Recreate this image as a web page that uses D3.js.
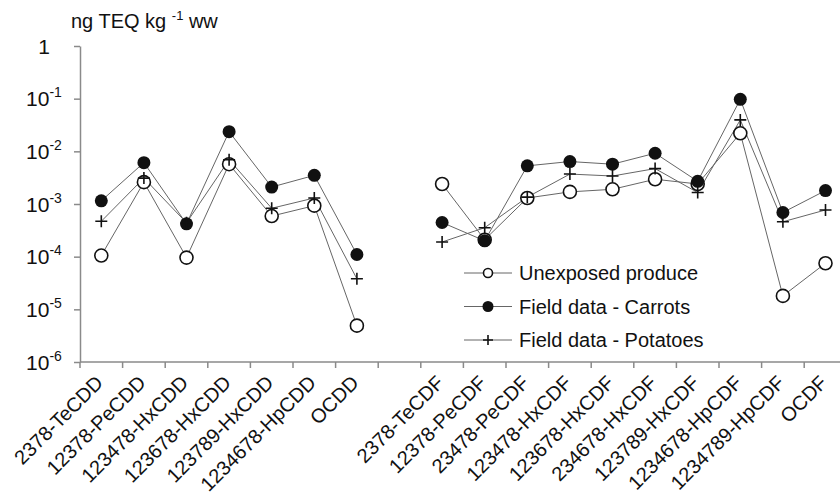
<!DOCTYPE html>
<html>
<head>
<meta charset="utf-8">
<script src="https://cdn.jsdelivr.net/npm/d3@7"></script>
<style>
  body { margin: 0; background: #fff; }
  svg { display: block; font-family: "Liberation Sans", Arial, sans-serif; }
</style>
</head>
<body>
<svg id="chart" width="840" height="497"></svg>
<script>
// categories (empty string = gap between dioxins and furans)
var categories = ["2378-TeCDD", "12378-PeCDD", "123478-HxCDD", "123678-HxCDD", "123789-HxCDD",
    "1234678-HpCDD", "OCDD", "",
    "2378-TeCDF", "12378-PeCDF", "23478-PeCDF", "123478-HxCDF", "123678-HxCDF", "234678-HxCDF",
    "123789-HxCDF", "1234678-HpCDF", "1234789-HpCDF", "OCDF"];

var unexposed = [1.05e-4, 2.6e-3, 9.6e-5, 5.7e-3, 5.9e-4, 9.3e-4, 4.9e-6, null,
    2.4e-3, 2.1e-4, 1.3e-3, 1.7e-3, 1.9e-3, 2.95e-3, 2.4e-3, 2.2e-2, 1.8e-5, 7.5e-5];
var carrots = [1.15e-3, 6.1e-3, 4.2e-4, 2.36e-2, 2.1e-3, 3.5e-3, 1.1e-4, null,
    4.45e-4, 2.0e-4, 5.3e-3, 6.4e-3, 5.7e-3, 9.2e-3, 2.7e-3, 9.7e-2, 6.9e-4, 1.8e-3];
var potatoes = [4.7e-4, 3.1e-3, 4.4e-4, 6.9e-3, 8.3e-4, 1.3e-3, 3.8e-5, null,
    1.9e-4, 3.55e-4, 1.35e-3, 3.7e-3, 3.4e-3, 4.7e-3, 1.65e-3, 3.95e-2, 4.6e-4, 7.7e-4];

var yTicks = [1, 1e-1, 1e-2, 1e-3, 1e-4, 1e-5, 1e-6];
var seriesNames = ["Unexposed produce", "Field data - Carrots", "Field data - Potatoes"];

var svg = d3.select("#chart");
var plotLeft = 80, plotTop = 46, plotBottom = 362, slot = 42.6;

var x = d3.scaleBand()
    .domain(d3.range(categories.length))
    .range([plotLeft, plotLeft + slot * categories.length]);

var y = d3.scaleLog()
    .domain([1e-6, 1])
    .range([plotBottom, plotTop]);

var axisColor = "#8a8a8a", lineColor = "#666";

// y axis
var yAxis = svg.append("g")
    .attr("transform", "translate(" + plotLeft + ",0)")
    .call(d3.axisLeft(y).tickValues(yTicks).tickSize(6).tickSizeOuter(0).tickFormat(""));
yAxis.select(".domain").attr("stroke", axisColor).attr("stroke-width", 1.5);
yAxis.selectAll(".tick line").attr("stroke", axisColor).attr("stroke-width", 1.5);

// y tick labels with superscript exponents
yTicks.forEach(function (v) {
    var e = Math.round(Math.log10(v));
    var t = svg.append("text")
        .attr("x", 44)
        .attr("y", y(v) + 7.5)
        .attr("text-anchor", "middle")
        .attr("font-size", 21)
        .attr("fill", "#111");
    if (e === 0) {
        t.text("1");
    } else {
        t.append("tspan").text("10");
        t.append("tspan").attr("dy", -9).attr("font-size", 14).text(e);
    }
});

// x axis
svg.append("line")
    .attr("x1", plotLeft).attr("x2", x.range()[1])
    .attr("y1", plotBottom).attr("y2", plotBottom)
    .attr("stroke", axisColor).attr("stroke-width", 1.5);

svg.selectAll(".xtick")
    .data(d3.range(categories.length + 1))
    .enter().append("line")
    .attr("class", "xtick")
    .attr("x1", function (i) { return plotLeft + i * x.step(); })
    .attr("x2", function (i) { return plotLeft + i * x.step(); })
    .attr("y1", plotBottom).attr("y2", plotBottom + 6)
    .attr("stroke", axisColor).attr("stroke-width", 1.5);

svg.selectAll(".xlabel")
    .data(categories)
    .enter().append("text")
    .attr("class", "xlabel")
    .attr("text-anchor", "end")
    .attr("font-size", 20)
    .attr("fill", "#111")
    .attr("transform", function (d, i) {
        var cx = x(i) + x.bandwidth() / 2 + 3;
        return "translate(" + cx + "," + (plotBottom + 22) + ") rotate(-45)";
    })
    .text(function (d) { return d; });

// title
var title = svg.append("text")
    .attr("x", 71).attr("y", 28)
    .attr("font-size", 20)
    .attr("fill", "#111");
title.append("tspan").text("ng TEQ kg ");
title.append("tspan").attr("dy", -8).attr("font-size", 13).text("-1");
title.append("tspan").attr("dy", 8).text(" ww");

// series
var line = d3.line()
    .defined(function (d) { return d != null; })
    .x(function (d, i) { return x(i) + x.bandwidth() / 2; })
    .y(function (d) { return y(d); });

function drawMarker(g, kind, r) {
    if (kind === 0) {
        g.append("circle").attr("r", r).attr("fill", "#fff").attr("stroke", "#111").attr("stroke-width", 1.6);
    } else if (kind === 1) {
        g.append("circle").attr("r", r).attr("fill", "#111");
    } else {
        g.append("path").attr("d", "M" + (-r) + ",0H" + r + "M0," + (-r) + "V" + r)
            .attr("stroke", "#111").attr("stroke-width", 1.6).attr("fill", "none");
    }
}

[unexposed, carrots, potatoes].forEach(function (vals, k) {
    svg.append("path")
        .datum(vals)
        .attr("d", line)
        .attr("fill", "none")
        .attr("stroke", lineColor)
        .attr("stroke-width", 1);
});

[unexposed, carrots, potatoes].forEach(function (vals, k) {
    vals.forEach(function (v, i) {
        if (v == null) return;
        var g = svg.append("g")
            .attr("transform", "translate(" + (x(i) + x.bandwidth() / 2) + "," + y(v) + ")");
        drawMarker(g, k, k === 2 ? 6 : 6.5);
    });
});

// legend
var legend = svg.append("g");
seriesNames.forEach(function (name, k) {
    var ly = 273 + k * 33.5;
    legend.append("line")
        .attr("x1", 464).attr("x2", 512)
        .attr("y1", ly).attr("y2", ly)
        .attr("stroke", lineColor).attr("stroke-width", 1);
    var g = legend.append("g").attr("transform", "translate(488," + ly + ")");
    drawMarker(g, k, k === 0 ? 4.5 : (k === 1 ? 5.5 : 5));
    legend.append("text")
        .attr("x", 519).attr("y", ly + 7)
        .attr("font-size", 20)
        .attr("fill", "#111")
        .text(name);
});
</script>
</body>
</html>
